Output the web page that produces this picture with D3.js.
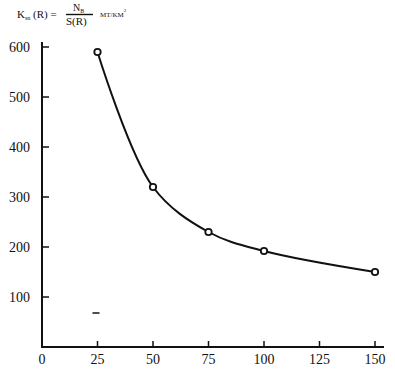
<!DOCTYPE html>
<html>
<head>
<script src="https://d3js.org/d3.v7.min.js"></script>
<style>
  body { margin: 0; background: #fff; }
  text { font-family: "Liberation Serif", "DejaVu Serif", serif; fill: #111; }
</style>
</head>
<body>
<div id="chart"></div>
<script>
// data
var radius = [25, 50, 75, 100, 150];
var density = [590, 320, 230, 192, 150];
var xTicks = [0, 25, 50, 75, 100, 125, 150];
var yTicks = [100, 200, 300, 400, 500, 600];
var stray = [{x: 25, y: 68}]; // small dash near the bottom left

var W = 395, H = 376;
var margin = {top: 42, left: 42, bottom: 29, right: 11};

var svg = d3.select("#chart").append("svg")
    .attr("width", W).attr("height", H);

var x = d3.scaleLinear().domain([0, 150]).range([42, 375]);
var y = d3.scaleLinear().domain([0, 600]).range([347, 47]);

// axes lines
svg.append("line")
    .attr("x1", 42).attr("x2", 42)
    .attr("y1", margin.top).attr("y2", 347)
    .attr("stroke", "#111").attr("stroke-width", 2);
svg.append("line")
    .attr("x1", 41).attr("x2", W - margin.right)
    .attr("y1", 347).attr("y2", 347)
    .attr("stroke", "#111").attr("stroke-width", 2);

// y ticks (point inward)
svg.selectAll(".ytick").data(yTicks).enter().append("line")
    .attr("x1", 42).attr("x2", 49)
    .attr("y1", d => y(d)).attr("y2", d => y(d))
    .attr("stroke", "#111").attr("stroke-width", 1.5);
svg.selectAll(".ylab").data(yTicks).enter().append("text")
    .attr("x", 30).attr("y", d => y(d) + 5)
    .attr("text-anchor", "end")
    .style("font-size", "14px")
    .text(d => d);

// x ticks (point upward)
svg.selectAll(".xtick").data(xTicks.filter(d => d > 0)).enter().append("line")
    .attr("x1", d => x(d)).attr("x2", d => x(d))
    .attr("y1", 347).attr("y2", 341)
    .attr("stroke", "#111").attr("stroke-width", 1.5);
svg.selectAll(".xlab").data(xTicks).enter().append("text")
    .attr("x", d => x(d)).attr("y", 364)
    .attr("text-anchor", "middle")
    .style("font-size", "14px")
    .text(d => d);

// curve
var pts = radius.map((r, i) => [r, density[i]]);
var line = d3.line()
    .x(d => x(d[0])).y(d => y(d[1]))
    .curve(d3.curveCatmullRom.alpha(0.5));
svg.append("path")
    .datum(pts)
    .attr("d", line)
    .attr("fill", "none")
    .attr("stroke", "#111")
    .attr("stroke-width", 2);

svg.selectAll(".pt").data(pts).enter().append("circle")
    .attr("cx", d => x(d[0])).attr("cy", d => y(d[1]))
    .attr("r", 3.2)
    .attr("fill", "#fff")
    .attr("stroke", "#111")
    .attr("stroke-width", 1.8);

// stray dash
svg.selectAll(".stray").data(stray).enter().append("line")
    .attr("x1", d => x(d.x) - 5).attr("x2", d => x(d.x) + 2)
    .attr("y1", d => y(d.y)).attr("y2", d => y(d.y))
    .attr("stroke", "#111").attr("stroke-width", 1.5);

// formula header
var f = svg.append("g");
var t = f.append("text").attr("x", 17).attr("y", 18).style("font-size", "11px");
t.append("tspan").text("K");
t.append("tspan").attr("dy", 2).style("font-size", "6px").text("sn");
t.append("tspan").attr("dy", -2).text(" (R) =");
f.append("line")
    .attr("x1", 66).attr("x2", 93).attr("y1", 14.5).attr("y2", 14.5)
    .attr("stroke", "#111").attr("stroke-width", 1.4);
var n = f.append("text").attr("x", 73).attr("y", 11).style("font-size", "10px");
n.append("tspan").text("N");
n.append("tspan").attr("dy", 1.5).style("font-size", "6px").text("B");
f.append("text").attr("x", 66).attr("y", 25).style("font-size", "11px").text("S(R)");
var u = f.append("text").attr("x", 100).attr("y", 17).style("font-size", "7px");
u.append("tspan").text("MT/KM");
u.append("tspan").attr("dy", -5).style("font-size", "5px").text("2");
</script>
</body>
</html>
